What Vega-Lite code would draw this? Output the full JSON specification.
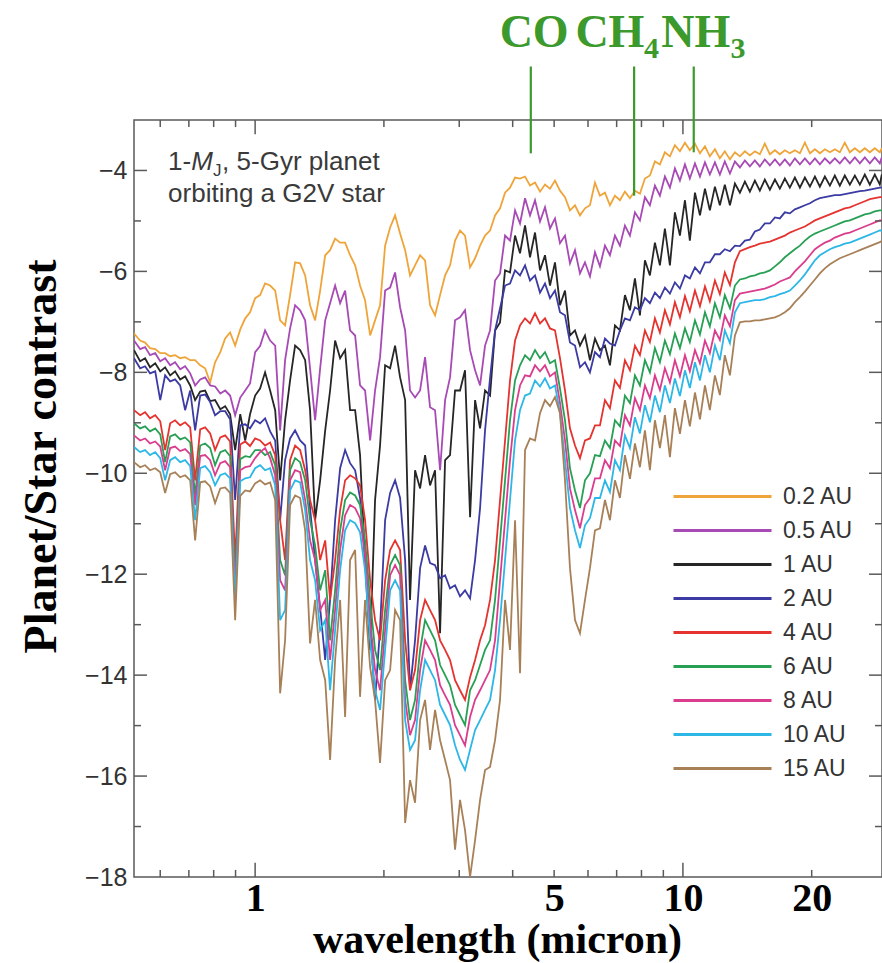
{
"$schema":"https://vega.github.io/schema/vega-lite/v6.json",
"width":748,"height":757,
"autosize":{"type":"none"},
"padding":{"left":134,"top":120,"right":0,"bottom":86},
"background":"white",
"config":{"view":{"stroke":"#5a5a5a","strokeWidth":1.5},"axis":{"grid":false,"domain":false,"ticks":false}},
"datasets":{
"spectra":[
{"w":0.521,"au02":-7.23,"au05":-7.37,"au1":-7.56,"au2":-7.72,"au4":-8.75,"au6":-9.01,"au8":-9.25,"au10":-9.48,"au15":-9.78},
{"w":0.5385,"au02":-7.37,"au05":-7.54,"au1":-7.78,"au2":-7.92,"au4":-8.85,"au6":-9.11,"au8":-9.35,"au10":-9.58,"au15":-9.88},
{"w":0.553,"au02":-7.41,"au05":-7.50,"au1":-7.72,"au2":-7.88,"au4":-8.79,"au6":-9.07,"au8":-9.31,"au10":-9.54,"au15":-9.84},
{"w":0.568,"au02":-7.52,"au05":-7.66,"au1":-7.90,"au2":-8.02,"au4":-8.91,"au6":-9.17,"au8":-9.41,"au10":-9.64,"au15":-9.94},
{"w":0.584,"au02":-7.54,"au05":-7.62,"au1":-7.82,"au2":-7.98,"au4":-8.85,"au6":-9.11,"au8":-9.37,"au10":-9.58,"au15":-9.90},
{"w":0.600,"au02":-7.62,"au05":-7.78,"au1":-7.98,"au2":-8.55,"au4":-8.97,"au6":-9.23,"au8":-9.47,"au10":-9.70,"au15":-9.98},
{"w":0.616,"au02":-7.62,"au05":-7.72,"au1":-7.90,"au2":-8.06,"au4":-9.54,"au6":-9.78,"au8":-9.94,"au10":-10.14,"au15":-10.39},
{"w":0.633,"au02":-7.68,"au05":-7.86,"au1":-8.06,"au2":-8.18,"au4":-9.01,"au6":-9.27,"au8":-9.50,"au10":-9.74,"au15":-10.02},
{"w":0.650,"au02":-7.66,"au05":-7.80,"au1":-7.98,"au2":-8.14,"au4":-8.95,"au6":-9.23,"au8":-9.47,"au10":-9.68,"au15":-9.98},
{"w":0.668,"au02":-7.72,"au05":-7.94,"au1":-8.14,"au2":-8.26,"au4":-9.05,"au6":-9.33,"au8":-9.56,"au10":-9.78,"au15":-10.08},
{"w":0.686,"au02":-7.70,"au05":-7.88,"au1":-8.08,"au2":-8.75,"au4":-8.99,"au6":-9.29,"au8":-9.52,"au10":-9.74,"au15":-10.04},
{"w":0.705,"au02":-7.76,"au05":-8.02,"au1":-8.26,"au2":-8.36,"au4":-9.09,"au6":-9.39,"au8":-9.62,"au10":-9.86,"au15":-10.14},
{"w":0.724,"au02":-7.76,"au05":-8.26,"au1":-8.55,"au2":-9.15,"au4":-10.14,"au6":-10.44,"au8":-10.63,"au10":-10.93,"au15":-11.33},
{"w":0.744,"au02":-7.86,"au05":-8.14,"au1":-8.38,"au2":-8.46,"au4":-9.13,"au6":-9.45,"au8":-9.66,"au10":-9.90,"au15":-10.18},
{"w":0.764,"au02":-7.92,"au05":-8.10,"au1":-8.36,"au2":-8.44,"au4":-9.09,"au6":-9.41,"au8":-9.64,"au10":-9.86,"au15":-10.16},
{"w":0.785,"au02":-8.20,"au05":-8.26,"au1":-8.57,"au2":-8.59,"au4":-9.21,"au6":-9.50,"au8":-9.74,"au10":-9.98,"au15":-10.26},
{"w":0.806,"au02":-7.80,"au05":-8.28,"au1":-8.55,"au2":-8.85,"au4":-9.54,"au6":-9.84,"au8":-10.04,"au10":-10.24,"au15":-10.59},
{"w":0.829,"au02":-7.60,"au05":-8.42,"au1":-8.73,"au2":-8.77,"au4":-9.29,"au6":-9.58,"au8":-9.80,"au10":-10.04,"au15":-10.30},
{"w":0.851,"au02":-7.33,"au05":-8.36,"au1":-8.67,"au2":-8.77,"au4":-9.25,"au6":-9.54,"au8":-9.76,"au10":-10.00,"au15":-10.28},
{"w":0.874,"au02":-7.21,"au05":-8.46,"au1":-8.83,"au2":-8.93,"au4":-9.37,"au6":-9.66,"au8":-9.88,"au10":-10.10,"au15":-10.39},
{"w":0.898,"au02":-7.47,"au05":-8.85,"au1":-9.54,"au2":-10.53,"au4":-11.72,"au6":-12.12,"au8":-12.32,"au10":-12.51,"au15":-12.91},
{"w":0.923,"au02":-7.15,"au05":-8.50,"au1":-8.83,"au2":-9.05,"au4":-9.43,"au6":-9.72,"au8":-9.94,"au10":-10.16,"au15":-10.45},
{"w":0.948,"au02":-6.93,"au05":-8.36,"au1":-9.35,"au2":-9.03,"au4":-9.37,"au6":-9.66,"au8":-9.88,"au10":-10.10,"au15":-10.34},
{"w":0.973,"au02":-6.81,"au05":-8.22,"au1":-8.83,"au2":-9.11,"au4":-9.46,"au6":-9.68,"au8":-9.86,"au10":-10.08,"au15":-10.36},
{"w":1.000,"au02":-6.53,"au05":-7.60,"au1":-8.46,"au2":-8.95,"au4":-9.31,"au6":-9.54,"au8":-9.70,"au10":-9.90,"au15":-10.20},
{"w":1.027,"au02":-6.47,"au05":-7.48,"au1":-8.32,"au2":-9.01,"au4":-9.35,"au6":-9.54,"au8":-9.58,"au10":-9.84,"au15":-10.14},
{"w":1.055,"au02":-6.24,"au05":-7.17,"au1":-8.00,"au2":-8.91,"au4":-9.45,"au6":-9.64,"au8":-9.50,"au10":-9.94,"au15":-10.22},
{"w":1.084,"au02":-6.28,"au05":-7.37,"au1":-8.36,"au2":-9.17,"au4":-9.39,"au6":-9.58,"au8":-9.70,"au10":-9.90,"au15":-10.18},
{"w":1.114,"au02":-6.38,"au05":-7.47,"au1":-8.75,"au2":-9.35,"au4":-9.64,"au6":-9.84,"au8":-10.04,"au10":-10.24,"au15":-10.53},
{"w":1.144,"au02":-6.97,"au05":-9.15,"au1":-10.14,"au2":-10.93,"au4":-10.93,"au6":-11.72,"au8":-12.12,"au10":-12.91,"au15":-14.36},
{"w":1.175,"au02":-7.07,"au05":-7.76,"au1":-8.95,"au2":-9.74,"au4":-11.72,"au6":-12.02,"au8":-12.32,"au10":-12.71,"au15":-13.31},
{"w":1.207,"au02":-6.47,"au05":-7.13,"au1":-8.16,"au2":-9.31,"au4":-9.74,"au6":-9.94,"au8":-10.14,"au10":-10.34,"au15":-10.63},
{"w":1.240,"au02":-5.82,"au05":-6.67,"au1":-7.47,"au2":-9.15,"au4":-9.45,"au6":-9.70,"au8":-9.94,"au10":-10.14,"au15":-10.44},
{"w":1.274,"au02":-5.84,"au05":-6.77,"au1":-7.56,"au2":-9.35,"au4":-9.54,"au6":-9.78,"au8":-9.98,"au10":-10.18,"au15":-10.49},
{"w":1.309,"au02":-6.08,"au05":-6.97,"au1":-7.76,"au2":-9.45,"au4":-9.94,"au6":-10.14,"au8":-10.53,"au10":-10.73,"au15":-11.13},
{"w":1.344,"au02":-6.67,"au05":-7.92,"au1":-8.75,"au2":-10.69,"au4":-10.53,"au6":-10.93,"au8":-11.33,"au10":-11.72,"au15":-13.37},
{"w":1.381,"au02":-6.97,"au05":-8.95,"au1":-10.93,"au2":-11.72,"au4":-10.93,"au6":-11.43,"au8":-11.72,"au10":-12.12,"au15":-12.51},
{"w":1.419,"au02":-6.38,"au05":-7.92,"au1":-10.14,"au2":-12.67,"au4":-11.72,"au6":-12.32,"au8":-12.71,"au10":-13.11,"au15":-13.70},
{"w":1.458,"au02":-5.68,"au05":-6.97,"au1":-9.15,"au2":-13.70,"au4":-11.33,"au6":-11.92,"au8":-12.51,"au10":-12.91,"au15":-14.10},
{"w":1.497,"au02":-5.58,"au05":-6.63,"au1":-8.36,"au2":-12.51,"au4":-12.51,"au6":-13.31,"au8":-13.70,"au10":-14.30,"au15":-15.68},
{"w":1.538,"au02":-5.35,"au05":-6.28,"au1":-7.37,"au2":-10.93,"au4":-11.72,"au6":-12.32,"au8":-12.71,"au10":-13.11,"au15":-13.70},
{"w":1.580,"au02":-5.43,"au05":-6.63,"au1":-7.72,"au2":-9.90,"au4":-10.73,"au6":-11.13,"au8":-11.52,"au10":-11.92,"au15":-12.51},
{"w":1.623,"au02":-5.43,"au05":-6.38,"au1":-7.56,"au2":-9.54,"au4":-10.14,"au6":-10.53,"au8":-10.83,"au10":-11.13,"au15":-14.83},
{"w":1.667,"au02":-5.68,"au05":-7.17,"au1":-8.75,"au2":-9.80,"au4":-10.04,"au6":-10.38,"au8":-10.63,"au10":-10.93,"au15":-11.72},
{"w":1.713,"au02":-5.88,"au05":-7.27,"au1":-8.75,"au2":-9.94,"au4":-10.10,"au6":-10.44,"au8":-10.69,"au10":-10.99,"au15":-11.52},
{"w":1.759,"au02":-6.28,"au05":-8.26,"au1":-9.64,"au2":-10.49,"au4":-10.24,"au6":-10.63,"au8":-10.89,"au10":-11.17,"au15":-14.43},
{"w":1.807,"au02":-6.57,"au05":-8.36,"au1":-11.72,"au2":-11.72,"au4":-10.93,"au6":-11.33,"au8":-11.62,"au10":-11.92,"au15":-12.51},
{"w":1.857,"au02":-7.27,"au05":-9.35,"au1":-13.50,"au2":-13.07,"au4":-12.12,"au6":-12.51,"au8":-12.91,"au10":-13.31,"au15":-13.84},
{"w":1.907,"au02":-6.97,"au05":-8.36,"au1":-10.53,"au2":-14.49,"au4":-12.91,"au6":-13.50,"au8":-13.90,"au10":-14.30,"au15":-14.49},
{"w":1.959,"au02":-6.67,"au05":-7.70,"au1":-9.45,"au2":-13.07,"au4":-13.31,"au6":-13.90,"au8":-14.30,"au10":-14.69,"au15":-15.74},
{"w":2.013,"au02":-5.49,"au05":-6.38,"au1":-7.86,"au2":-10.93,"au4":-12.12,"au6":-12.71,"au8":-13.11,"au10":-13.50,"au15":-14.10},
{"w":2.068,"au02":-5.13,"au05":-6.32,"au1":-7.92,"au2":-10.39,"au4":-11.52,"au6":-11.82,"au8":-12.02,"au10":-12.32,"au15":-13.90},
{"w":2.124,"au02":-4.89,"au05":-6.02,"au1":-7.47,"au2":-10.14,"au4":-11.33,"au6":-11.62,"au8":-11.82,"au10":-12.12,"au15":-12.71},
{"w":2.182,"au02":-5.25,"au05":-6.71,"au1":-8.10,"au2":-10.49,"au4":-11.52,"au6":-11.82,"au8":-12.02,"au10":-12.32,"au15":-12.91},
{"w":2.242,"au02":-5.58,"au05":-7.17,"au1":-8.55,"au2":-11.72,"au4":-13.31,"au6":-14.10,"au8":-14.49,"au10":-14.89,"au15":-16.93},
{"w":2.302,"au02":-6.08,"au05":-8.36,"au1":-12.51,"au2":-14.30,"au4":-14.30,"au6":-14.89,"au8":-15.19,"au10":-15.48,"au15":-16.08},
{"w":2.365,"au02":-5.88,"au05":-8.50,"au1":-9.94,"au2":-13.31,"au4":-13.90,"au6":-14.49,"au8":-14.89,"au10":-15.29,"au15":-16.53},
{"w":2.430,"au02":-5.68,"au05":-8.36,"au1":-10.30,"au2":-11.88,"au4":-12.91,"au6":-13.50,"au8":-13.90,"au10":-14.30,"au15":-14.89},
{"w":2.496,"au02":-5.78,"au05":-7.70,"au1":-9.64,"au2":-11.43,"au4":-12.51,"au6":-12.91,"au8":-13.31,"au10":-13.70,"au15":-14.49},
{"w":2.564,"au02":-6.67,"au05":-8.69,"au1":-10.24,"au2":-11.78,"au4":-12.71,"au6":-13.11,"au8":-13.50,"au10":-13.90,"au15":-15.48},
{"w":2.634,"au02":-6.87,"au05":-8.75,"au1":-9.94,"au2":-11.82,"au4":-12.91,"au6":-13.31,"au8":-13.70,"au10":-14.10,"au15":-14.69},
{"w":2.706,"au02":-6.47,"au05":-9.94,"au1":-13.17,"au2":-12.08,"au4":-13.31,"au6":-13.80,"au8":-14.20,"au10":-14.59,"au15":-15.29},
{"w":2.780,"au02":-6.08,"au05":-8.55,"au1":-9.74,"au2":-12.02,"au4":-13.50,"au6":-14.00,"au8":-14.40,"au10":-14.79,"au15":-15.68},
{"w":2.855,"au02":-5.88,"au05":-8.10,"au1":-9.64,"au2":-12.28,"au4":-13.70,"au6":-14.20,"au8":-14.59,"au10":-14.99,"au15":-16.08},
{"w":2.933,"au02":-5.39,"au05":-6.97,"au1":-8.36,"au2":-12.22,"au4":-14.10,"au6":-14.59,"au8":-14.99,"au10":-15.39,"au15":-17.46},
{"w":3.013,"au02":-5.19,"au05":-6.91,"au1":-8.36,"au2":-12.44,"au4":-14.30,"au6":-14.79,"au8":-15.19,"au10":-15.68,"au15":-16.47},
{"w":3.095,"au02":-5.29,"au05":-6.77,"au1":-7.96,"au2":-12.32,"au4":-14.49,"au6":-14.99,"au8":-15.39,"au10":-15.88,"au15":-17.07},
{"w":3.180,"au02":-5.92,"au05":-7.56,"au1":-10.87,"au2":-12.48,"au4":-14.04,"au6":-14.30,"au8":-14.83,"au10":-15.48,"au15":-18.00},
{"w":3.267,"au02":-5.74,"au05":-7.96,"au1":-8.55,"au2":-11.72,"au4":-13.70,"au6":-14.10,"au8":-14.49,"au10":-15.09,"au15":-17.27},
{"w":3.356,"au02":-5.49,"au05":-8.26,"au1":-9.11,"au2":-10.69,"au4":-13.31,"au6":-13.80,"au8":-14.30,"au10":-14.89,"au15":-16.47},
{"w":3.447,"au02":-5.29,"au05":-7.47,"au1":-8.36,"au2":-9.15,"au4":-13.01,"au6":-13.50,"au8":-14.10,"au10":-14.69,"au15":-15.88},
{"w":3.541,"au02":-5.19,"au05":-7.17,"au1":-8.46,"au2":-8.12,"au4":-12.51,"au6":-13.31,"au8":-13.90,"au10":-14.49,"au15":-15.82},
{"w":3.638,"au02":-4.89,"au05":-6.18,"au1":-7.17,"au2":-7.17,"au4":-11.72,"au6":-12.51,"au8":-13.31,"au10":-13.90,"au15":-15.29},
{"w":3.737,"au02":-4.75,"au05":-6.04,"au1":-7.01,"au2":-6.73,"au4":-10.53,"au6":-11.33,"au8":-12.12,"au10":-12.91,"au15":-14.49},
{"w":3.839,"au02":-4.44,"au05":-5.29,"au1":-5.98,"au2":-6.28,"au4":-9.35,"au6":-10.14,"au8":-10.93,"au10":-11.72,"au15":-12.51},
{"w":3.943,"au02":-4.34,"au05":-5.39,"au1":-6.02,"au2":-6.24,"au4":-8.16,"au6":-8.95,"au8":-9.74,"au10":-10.53,"au15":-13.50},
{"w":4.051,"au02":-4.14,"au05":-4.79,"au1":-5.29,"au2":-5.98,"au4":-7.37,"au6":-8.16,"au8":-8.75,"au10":-9.35,"au15":-10.93},
{"w":4.161,"au02":-4.16,"au05":-5.05,"au1":-5.64,"au2":-6.08,"au4":-7.07,"au6":-7.86,"au8":-8.26,"au10":-8.75,"au15":-13.96},
{"w":4.275,"au02":-4.12,"au05":-4.55,"au1":-5.09,"au2":-5.88,"au4":-6.93,"au6":-7.66,"au8":-8.06,"au10":-8.46,"au15":-9.54},
{"w":4.391,"au02":-4.30,"au05":-4.89,"au1":-5.72,"au2":-6.18,"au4":-7.03,"au6":-7.76,"au8":-8.08,"au10":-8.42,"au15":-9.31},
{"w":4.511,"au02":-4.24,"au05":-4.59,"au1":-5.23,"au2":-6.08,"au4":-6.83,"au6":-7.56,"au8":-7.86,"au10":-8.16,"au15":-9.35},
{"w":4.634,"au02":-4.42,"au05":-5.01,"au1":-5.98,"au2":-6.42,"au4":-7.03,"au6":-7.72,"au8":-7.98,"au10":-8.28,"au15":-8.81},
{"w":4.760,"au02":-4.28,"au05":-4.73,"au1":-5.68,"au2":-6.24,"au4":-6.93,"au6":-7.60,"au8":-7.86,"au10":-8.12,"au15":-8.55},
{"w":4.890,"au02":-4.36,"au05":-5.15,"au1":-6.28,"au2":-6.53,"au4":-7.13,"au6":-7.82,"au8":-8.08,"au10":-8.32,"au15":-8.67},
{"w":5.023,"au02":-4.20,"au05":-4.95,"au1":-5.82,"au2":-6.38,"au4":-7.17,"au6":-7.76,"au8":-8.00,"au10":-8.26,"au15":-8.49},
{"w":5.160,"au02":-4.40,"au05":-5.44,"au1":-6.67,"au2":-6.81,"au4":-7.72,"au6":-8.32,"au8":-8.61,"au10":-8.81,"au15":-8.81},
{"w":5.301,"au02":-4.53,"au05":-5.29,"au1":-6.38,"au2":-6.87,"au4":-8.36,"au6":-8.95,"au8":-9.35,"au10":-9.74,"au15":-10.14},
{"w":5.445,"au02":-4.79,"au05":-5.84,"au1":-7.27,"au2":-7.41,"au4":-9.11,"au6":-9.90,"au8":-10.30,"au10":-10.69,"au15":-11.88},
{"w":5.594,"au02":-4.69,"au05":-5.58,"au1":-7.17,"au2":-7.47,"au4":-9.45,"au6":-10.34,"au8":-10.73,"au10":-11.13,"au15":-12.91},
{"w":5.746,"au02":-4.89,"au05":-6.04,"au1":-7.47,"au2":-7.90,"au4":-9.70,"au6":-10.69,"au8":-11.09,"au10":-11.48,"au15":-13.17},
{"w":5.903,"au02":-4.75,"au05":-5.82,"au1":-7.27,"au2":-7.80,"au4":-9.35,"au6":-10.14,"au8":-10.63,"au10":-11.03,"au15":-12.51},
{"w":6.063,"au02":-4.69,"au05":-6.10,"au1":-7.76,"au2":-8.00,"au4":-9.31,"au6":-10.00,"au8":-10.49,"au10":-10.89,"au15":-11.88},
{"w":6.229,"au02":-4.24,"au05":-5.62,"au1":-7.33,"au2":-7.60,"au4":-9.05,"au6":-9.64,"au8":-10.10,"au10":-10.49,"au15":-11.13},
{"w":6.398,"au02":-4.50,"au05":-5.90,"au1":-7.56,"au2":-7.70,"au4":-9.05,"au6":-9.66,"au8":-10.10,"au10":-10.49,"au15":-11.09},
{"w":6.573,"au02":-4.44,"au05":-5.49,"au1":-7.47,"au2":-7.33,"au4":-8.55,"au6":-9.35,"au8":-9.74,"au10":-10.14,"au15":-10.53},
{"w":6.752,"au02":-4.69,"au05":-5.68,"au1":-7.86,"au2":-7.43,"au4":-8.71,"au6":-9.50,"au8":-9.90,"au10":-10.37,"au15":-10.93},
{"w":6.936,"au02":-4.50,"au05":-5.29,"au1":-7.07,"au2":-7.47,"au4":-8.16,"au6":-8.95,"au8":-9.35,"au10":-9.74,"au15":-10.14},
{"w":7.125,"au02":-4.59,"au05":-5.49,"au1":-7.17,"au2":-7.17,"au4":-8.31,"au6":-9.07,"au8":-9.46,"au10":-9.94,"au15":-10.49},
{"w":7.319,"au02":-4.42,"au05":-5.09,"au1":-6.47,"au2":-6.93,"au4":-7.76,"au6":-8.46,"au8":-8.85,"au10":-9.25,"au15":-9.64},
{"w":7.519,"au02":-4.55,"au05":-5.29,"au1":-6.77,"au2":-6.97,"au4":-7.96,"au6":-8.61,"au8":-9.05,"au10":-9.50,"au15":-10.11},
{"w":7.724,"au02":-4.40,"au05":-4.83,"au1":-6.14,"au2":-6.71,"au4":-7.47,"au6":-8.06,"au8":-8.51,"au10":-8.89,"au15":-9.41},
{"w":7.934,"au02":-4.46,"au05":-4.99,"au1":-6.87,"au2":-6.77,"au4":-7.66,"au6":-8.26,"au8":-8.75,"au10":-9.21,"au15":-9.88},
{"w":8.151,"au02":-4.16,"au05":-4.53,"au1":-5.78,"au2":-6.53,"au4":-7.17,"au6":-7.76,"au8":-8.26,"au10":-8.65,"au15":-9.15},
{"w":8.372,"au02":-4.10,"au05":-4.69,"au1":-6.08,"au2":-6.63,"au4":-7.40,"au6":-8.00,"au8":-8.51,"au10":-8.99,"au15":-9.94},
{"w":8.601,"au02":-3.82,"au05":-4.30,"au1":-5.43,"au2":-6.42,"au4":-6.93,"au6":-7.52,"au8":-8.06,"au10":-8.46,"au15":-8.95},
{"w":8.835,"au02":-3.88,"au05":-4.50,"au1":-5.88,"au2":-6.53,"au4":-7.21,"au6":-7.80,"au8":-8.35,"au10":-8.79,"au15":-9.50},
{"w":9.076,"au02":-3.64,"au05":-4.12,"au1":-5.15,"au2":-6.32,"au4":-6.77,"au6":-7.37,"au8":-7.92,"au10":-8.26,"au15":-8.85},
{"w":9.324,"au02":-3.72,"au05":-4.34,"au1":-5.88,"au2":-6.44,"au4":-7.05,"au6":-7.64,"au8":-8.20,"au10":-8.61,"au15":-9.68},
{"w":9.578,"au02":-3.50,"au05":-3.96,"au1":-4.83,"au2":-6.22,"au4":-6.61,"au6":-7.23,"au8":-7.76,"au10":-8.12,"au15":-8.71},
{"w":9.84,"au02":-3.62,"au05":-4.20,"au1":-5.29,"au2":-6.34,"au4":-6.91,"au6":-7.52,"au8":-8.08,"au10":-8.47,"au15":-9.22},
{"w":10.11,"au02":-3.45,"au05":-3.88,"au1":-4.59,"au2":-6.08,"au4":-6.49,"au6":-7.13,"au8":-7.66,"au10":-7.96,"au15":-8.55},
{"w":10.38,"au02":-3.60,"au05":-4.16,"au1":-5.39,"au2":-6.14,"au4":-6.79,"au6":-7.40,"au8":-7.98,"au10":-8.31,"au15":-9.07},
{"w":10.67,"au02":-3.47,"au05":-3.86,"au1":-4.44,"au2":-5.92,"au4":-6.38,"au6":-6.97,"au8":-7.56,"au10":-7.80,"au15":-8.40},
{"w":10.96,"au02":-3.66,"au05":-4.12,"au1":-4.89,"au2":-6.04,"au4":-6.69,"au6":-7.25,"au8":-7.82,"au10":-8.16,"au15":-8.93},
{"w":11.26,"au02":-3.52,"au05":-3.84,"au1":-4.36,"au2":-5.82,"au4":-6.30,"au6":-6.81,"au8":-7.37,"au10":-7.66,"au15":-8.26},
{"w":11.56,"au02":-3.72,"au05":-4.08,"au1":-4.79,"au2":-5.82,"au4":-6.59,"au6":-7.09,"au8":-7.62,"au10":-8.00,"au15":-8.75},
{"w":11.88,"au02":-3.58,"au05":-3.84,"au1":-4.32,"au2":-5.66,"au4":-6.18,"au6":-6.63,"au8":-7.17,"au10":-7.47,"au15":-8.06},
{"w":12.20,"au02":-3.76,"au05":-4.08,"au1":-4.69,"au2":-5.66,"au4":-6.45,"au6":-6.91,"au8":-7.36,"au10":-7.76,"au15":-8.45},
{"w":12.53,"au02":-3.62,"au05":-3.82,"au1":-4.28,"au2":-5.56,"au4":-6.02,"au6":-6.47,"au8":-6.87,"au10":-7.17,"au15":-7.66},
{"w":12.88,"au02":-3.78,"au05":-4.06,"au1":-4.69,"au2":-5.60,"au4":-6.27,"au6":-6.73,"au8":-7.09,"au10":-7.42,"au15":-8.06},
{"w":13.23,"au02":-3.64,"au05":-3.82,"au1":-4.26,"au2":-5.49,"au4":-5.82,"au6":-6.28,"au8":-6.57,"au10":-6.81,"au15":-7.27},
{"w":13.59,"au02":-3.72,"au05":-3.94,"au1":-4.44,"au2":-5.50,"au4":-5.60,"au6":-6.16,"au8":-6.44,"au10":-6.63,"au15":-7.01},
{"w":13.96,"au02":-3.62,"au05":-3.80,"au1":-4.22,"au2":-5.39,"au4":-5.56,"au6":-6.14,"au8":-6.42,"au10":-6.61,"au15":-6.99},
{"w":14.34,"au02":-3.70,"au05":-3.92,"au1":-4.42,"au2":-5.37,"au4":-5.52,"au6":-6.10,"au8":-6.40,"au10":-6.59,"au15":-6.99},
{"w":14.73,"au02":-3.62,"au05":-3.80,"au1":-4.20,"au2":-5.21,"au4":-5.49,"au6":-6.08,"au8":-6.38,"au10":-6.57,"au15":-6.97},
{"w":15.13,"au02":-3.68,"au05":-3.92,"au1":-4.40,"au2":-5.17,"au4":-5.45,"au6":-6.04,"au8":-6.36,"au10":-6.57,"au15":-6.97},
{"w":15.54,"au02":-3.47,"au05":-3.78,"au1":-4.18,"au2":-5.05,"au4":-5.43,"au6":-6.02,"au8":-6.34,"au10":-6.55,"au15":-6.95},
{"w":15.97,"au02":-3.68,"au05":-3.90,"au1":-4.38,"au2":-5.05,"au4":-5.41,"au6":-5.98,"au8":-6.30,"au10":-6.51,"au15":-6.93},
{"w":16.41,"au02":-3.60,"au05":-3.78,"au1":-4.18,"au2":-4.93,"au4":-5.37,"au6":-5.90,"au8":-6.26,"au10":-6.49,"au15":-6.91},
{"w":16.85,"au02":-3.68,"au05":-3.90,"au1":-4.36,"au2":-4.95,"au4":-5.33,"au6":-5.82,"au8":-6.20,"au10":-6.45,"au15":-6.87},
{"w":17.31,"au02":-3.60,"au05":-3.78,"au1":-4.16,"au2":-4.83,"au4":-5.29,"au6":-5.72,"au8":-6.16,"au10":-6.42,"au15":-6.81},
{"w":17.78,"au02":-3.66,"au05":-3.90,"au1":-4.34,"au2":-4.85,"au4":-5.23,"au6":-5.64,"au8":-6.12,"au10":-6.38,"au15":-6.73},
{"w":18.27,"au02":-3.60,"au05":-3.76,"au1":-4.14,"au2":-4.77,"au4":-5.19,"au6":-5.56,"au8":-6.00,"au10":-6.28,"au15":-6.61},
{"w":18.77,"au02":-3.66,"au05":-3.88,"au1":-4.34,"au2":-4.73,"au4":-5.15,"au6":-5.49,"au8":-5.90,"au10":-6.18,"au15":-6.51},
{"w":19.28,"au02":-3.45,"au05":-3.76,"au1":-4.14,"au2":-4.69,"au4":-5.11,"au6":-5.39,"au8":-5.80,"au10":-6.06,"au15":-6.40},
{"w":19.81,"au02":-3.66,"au05":-3.88,"au1":-4.32,"au2":-4.65,"au4":-5.05,"au6":-5.31,"au8":-5.68,"au10":-5.92,"au15":-6.28},
{"w":20.35,"au02":-3.58,"au05":-3.76,"au1":-4.12,"au2":-4.59,"au4":-4.99,"au6":-5.25,"au8":-5.56,"au10":-5.78,"au15":-6.16},
{"w":20.90,"au02":-3.66,"au05":-3.88,"au1":-4.32,"au2":-4.55,"au4":-4.95,"au6":-5.21,"au8":-5.49,"au10":-5.68,"au15":-6.04},
{"w":21.47,"au02":-3.58,"au05":-3.76,"au1":-4.12,"au2":-4.53,"au4":-4.91,"au6":-5.17,"au8":-5.43,"au10":-5.62,"au15":-5.94},
{"w":22.06,"au02":-3.64,"au05":-3.86,"au1":-4.30,"au2":-4.51,"au4":-4.87,"au6":-5.13,"au8":-5.39,"au10":-5.56,"au15":-5.86},
{"w":22.65,"au02":-3.58,"au05":-3.76,"au1":-4.10,"au2":-4.49,"au4":-4.83,"au6":-5.09,"au8":-5.33,"au10":-5.52,"au15":-5.80},
{"w":23.27,"au02":-3.64,"au05":-3.86,"au1":-4.30,"au2":-4.49,"au4":-4.79,"au6":-5.05,"au8":-5.29,"au10":-5.49,"au15":-5.74},
{"w":23.90,"au02":-3.45,"au05":-3.74,"au1":-4.10,"au2":-4.47,"au4":-4.75,"au6":-5.01,"au8":-5.25,"au10":-5.45,"au15":-5.70},
{"w":24.56,"au02":-3.64,"au05":-3.86,"au1":-4.28,"au2":-4.45,"au4":-4.73,"au6":-4.99,"au8":-5.23,"au10":-5.43,"au15":-5.66},
{"w":25.23,"au02":-3.56,"au05":-3.74,"au1":-4.10,"au2":-4.43,"au4":-4.69,"au6":-4.95,"au8":-5.19,"au10":-5.39,"au15":-5.62},
{"w":25.92,"au02":-3.64,"au05":-3.86,"au1":-4.28,"au2":-4.41,"au4":-4.65,"au6":-4.91,"au8":-5.15,"au10":-5.35,"au15":-5.58},
{"w":26.62,"au02":-3.56,"au05":-3.74,"au1":-4.08,"au2":-4.40,"au4":-4.61,"au6":-4.87,"au8":-5.11,"au10":-5.31,"au15":-5.54},
{"w":27.35,"au02":-3.64,"au05":-3.86,"au1":-4.28,"au2":-4.38,"au4":-4.57,"au6":-4.85,"au8":-5.07,"au10":-5.27,"au15":-5.50},
{"w":28.09,"au02":-3.56,"au05":-3.74,"au1":-4.08,"au2":-4.36,"au4":-4.55,"au6":-4.81,"au8":-5.03,"au10":-5.23,"au15":-5.46},
{"w":28.86,"au02":-3.64,"au05":-3.86,"au1":-4.28,"au2":-4.34,"au4":-4.53,"au6":-4.79,"au8":-4.99,"au10":-5.19,"au15":-5.42},
{"w":29.17,"au02":-3.56,"au05":-3.74,"au1":-4.08,"au2":-4.34,"au4":-4.53,"au6":-4.79,"au8":-4.99,"au10":-5.19,"au15":-5.40}
],
"bands":[
{"molecule":"CO","formula":"CO","wavelength":4.41,"label_wavelength":4.49,"line_end":-3.66},
{"molecule":"CH4","formula":"CH","wavelength":7.69,"label_wavelength":6.75,"line_end":-4.50},
{"molecule":"NH3","formula":"NH","wavelength":10.6,"label_wavelength":10.72,"line_end":-3.64}
],
"subscripts":[
{"molecule":"CH4","digit":"4","wavelength":8.44},
{"molecule":"NH3","digit":"3","wavelength":13.45}
],
"x_ticks":[
{"tick":0.6,"major":false},{"tick":0.7,"major":false},{"tick":0.8,"major":false},{"tick":0.9,"major":false},{"tick":1,"major":true},
{"tick":2,"major":false},{"tick":3,"major":false},{"tick":4,"major":false},{"tick":5,"major":false},{"tick":6,"major":false},
{"tick":7,"major":false},{"tick":8,"major":false},{"tick":9,"major":false},{"tick":10,"major":true},{"tick":20,"major":false}
],
"y_ticks":[
{"tick":-17,"major":false},{"tick":-16,"major":true},{"tick":-15,"major":false},{"tick":-14,"major":true},{"tick":-13,"major":false},
{"tick":-12,"major":true},{"tick":-11,"major":false},{"tick":-10,"major":true},{"tick":-9,"major":false},{"tick":-8,"major":true},
{"tick":-7,"major":false},{"tick":-6,"major":true},{"tick":-5,"major":false},{"tick":-4,"major":true}
]
},
"layer":[
{
"data":{"name":"spectra"},
"transform":[{"fold":["au02","au05","au1","au2","au4","au6","au8","au10","au15"],"as":["distance","contrast"]}],
"mark":{"type":"line","strokeWidth":1.8,"clip":true},
"encoding":{
"x":{"field":"w","type":"quantitative","scale":{"type":"log","domain":[0.521,29.2],"nice":false},
"axis":{"orient":"bottom","values":[1,5,10,20],"format":"d",
"labelFont":"Liberation Serif","labelFontWeight":"bold","labelFontSize":40,"labelColor":"black","labelPadding":1,
"labelFlush":false,"labelOverlap":false,"labelBound":false,
"title":"wavelength (micron)","titleFont":"Liberation Serif","titleFontWeight":"bold","titleFontSize":42,"titleColor":"black",
"titleX":363,"titleY":75,"titleBaseline":"alphabetic","titleAlign":"center"}},
"y":{"field":"contrast","type":"quantitative","scale":{"domain":[-18,-3],"nice":false,"zero":false},
"axis":{"orient":"left","values":[-18,-16,-14,-12,-10,-8,-6,-4],
"labelFont":"Liberation Sans","labelFontSize":25,"labelColor":"#333333","labelPadding":7,"labelOverlap":false,
"title":"Planet/Star contrast","titleFont":"Liberation Serif","titleFontWeight":"bold","titleFontSize":46,"titleColor":"black",
"titleAngle":270,"titleX":-79,"titleY":336,"titleBaseline":"alphabetic","titleAlign":"center"}},
"color":{"field":"distance","type":"nominal",
"scale":{"domain":["au02","au05","au1","au2","au4","au6","au8","au10","au15"],
"range":["#EFA43A","#A84AB5","#262626","#3B3BA3","#E5332F","#27A055","#DB3D8E","#2CB7E6","#A88058"]},
"legend":{"orient":"none","legendX":538,"legendY":366,"title":null,"symbolType":"stroke","symbolSize":9604,"symbolStrokeWidth":3,
"clipHeight":21,
"labelFont":"Liberation Sans","labelFontSize":23,"labelColor":"#333333","labelOffset":10,"rowPadding":10,"padding":0,
"labelExpr":"datum.label == 'au02' ? '0.2 AU' : datum.label == 'au05' ? '0.5 AU' : slice(datum.label, 2) + ' AU'"}}
}
},
{
"data":{"name":"x_ticks"},
"transform":[{"filter":"datum.major"}],
"mark":{"type":"rule","color":"#5a5a5a","strokeWidth":1.5},
"encoding":{
"x":{"field":"tick","type":"quantitative","scale":{"type":"log","domain":[0.521,29.2],"nice":false}},
"y":{"datum":-18,"type":"quantitative","scale":{"domain":[-18,-3],"nice":false,"zero":false}},
"y2":{"datum":-17.72}
}
},
{
"data":{"name":"x_ticks"},
"transform":[{"filter":"!datum.major"}],
"mark":{"type":"rule","color":"#5a5a5a","strokeWidth":1.5},
"encoding":{
"x":{"field":"tick","type":"quantitative","scale":{"type":"log","domain":[0.521,29.2],"nice":false}},
"y":{"datum":-18,"type":"quantitative","scale":{"domain":[-18,-3],"nice":false,"zero":false}},
"y2":{"datum":-17.86}
}
},
{
"data":{"name":"x_ticks"},
"transform":[{"filter":"datum.major"}],
"mark":{"type":"rule","color":"#5a5a5a","strokeWidth":1.5},
"encoding":{
"x":{"field":"tick","type":"quantitative","scale":{"type":"log","domain":[0.521,29.2],"nice":false}},
"y":{"datum":-3,"type":"quantitative","scale":{"domain":[-18,-3],"nice":false,"zero":false}},
"y2":{"datum":-3.28}
}
},
{
"data":{"name":"x_ticks"},
"transform":[{"filter":"!datum.major"}],
"mark":{"type":"rule","color":"#5a5a5a","strokeWidth":1.5},
"encoding":{
"x":{"field":"tick","type":"quantitative","scale":{"type":"log","domain":[0.521,29.2],"nice":false}},
"y":{"datum":-3,"type":"quantitative","scale":{"domain":[-18,-3],"nice":false,"zero":false}},
"y2":{"datum":-3.14}
}
},
{
"data":{"name":"y_ticks"},
"transform":[{"filter":"datum.major"}],
"mark":{"type":"rule","color":"#5a5a5a","strokeWidth":1.5},
"encoding":{
"y":{"field":"tick","type":"quantitative","scale":{"domain":[-18,-3],"nice":false,"zero":false}},
"x":{"datum":0.521,"type":"quantitative","scale":{"type":"log","domain":[0.521,29.2],"nice":false}},
"x2":{"datum":0.5587}
}
},
{
"data":{"name":"y_ticks"},
"transform":[{"filter":"!datum.major"}],
"mark":{"type":"rule","color":"#5a5a5a","strokeWidth":1.5},
"encoding":{
"y":{"field":"tick","type":"quantitative","scale":{"domain":[-18,-3],"nice":false,"zero":false}},
"x":{"datum":0.521,"type":"quantitative","scale":{"type":"log","domain":[0.521,29.2],"nice":false}},
"x2":{"datum":0.541}
}
},
{
"data":{"name":"y_ticks"},
"transform":[{"filter":"datum.major"}],
"mark":{"type":"rule","color":"#5a5a5a","strokeWidth":1.5},
"encoding":{
"y":{"field":"tick","type":"quantitative","scale":{"domain":[-18,-3],"nice":false,"zero":false}},
"x":{"datum":29.2,"type":"quantitative","scale":{"type":"log","domain":[0.521,29.2],"nice":false}},
"x2":{"datum":27.23}
}
},
{
"data":{"name":"y_ticks"},
"transform":[{"filter":"!datum.major"}],
"mark":{"type":"rule","color":"#5a5a5a","strokeWidth":1.5},
"encoding":{
"y":{"field":"tick","type":"quantitative","scale":{"domain":[-18,-3],"nice":false,"zero":false}},
"x":{"datum":29.2,"type":"quantitative","scale":{"type":"log","domain":[0.521,29.2],"nice":false}},
"x2":{"datum":28.12}
}
},
{
"data":{"name":"bands"},
"mark":{"type":"rule","color":"#3c9a2c","strokeWidth":2.2},
"encoding":{
"x":{"field":"wavelength","type":"quantitative","scale":{"type":"log","domain":[0.521,29.2],"nice":false}},
"y":{"field":"line_end","type":"quantitative","scale":{"domain":[-18,-3],"nice":false,"zero":false}},
"y2":{"datum":-1.94}
}
},
{
"data":{"name":"bands"},
"mark":{"type":"text","font":"Liberation Serif","fontWeight":"bold","fontSize":46,"color":"#3c9a2c","align":"center","baseline":"alphabetic"},
"encoding":{
"x":{"field":"label_wavelength","type":"quantitative","scale":{"type":"log","domain":[0.521,29.2],"nice":false}},
"y":{"datum":-1.56,"type":"quantitative","scale":{"domain":[-18,-3],"nice":false,"zero":false}},
"text":{"field":"formula"}
}
},
{
"data":{"name":"subscripts"},
"mark":{"type":"text","font":"Liberation Serif","fontWeight":"bold","fontSize":30,"color":"#3c9a2c","align":"center","baseline":"alphabetic"},
"encoding":{
"x":{"field":"wavelength","type":"quantitative","scale":{"type":"log","domain":[0.521,29.2],"nice":false}},
"y":{"datum":-1.78,"type":"quantitative","scale":{"domain":[-18,-3],"nice":false,"zero":false}},
"text":{"field":"digit"}
}
},
{
"data":{"values":[{"part":"1-"}]},
"mark":{"type":"text","font":"Liberation Sans","fontSize":26,"color":"#3a3a3a","align":"left","baseline":"alphabetic","text":"1-"},
"encoding":{
"x":{"datum":0.626,"type":"quantitative","scale":{"type":"log","domain":[0.521,29.2],"nice":false}},
"y":{"datum":-4.0,"type":"quantitative","scale":{"domain":[-18,-3],"nice":false,"zero":false}}
}
},
{
"data":{"values":[{"part":"M"}]},
"mark":{"type":"text","font":"Liberation Sans","fontSize":26,"fontStyle":"italic","color":"#3a3a3a","align":"left","baseline":"alphabetic","text":"M"},
"encoding":{
"x":{"datum":0.7089,"type":"quantitative","scale":{"type":"log","domain":[0.521,29.2],"nice":false}},
"y":{"datum":-4.0,"type":"quantitative","scale":{"domain":[-18,-3],"nice":false,"zero":false}}
}
},
{
"data":{"values":[{"part":"J"}]},
"mark":{"type":"text","font":"Liberation Sans","fontSize":17,"color":"#3a3a3a","align":"left","baseline":"alphabetic","text":"J"},
"encoding":{
"x":{"datum":0.7968,"type":"quantitative","scale":{"type":"log","domain":[0.521,29.2],"nice":false}},
"y":{"datum":-4.1,"type":"quantitative","scale":{"domain":[-18,-3],"nice":false,"zero":false}}
}
},
{
"data":{"values":[{"part":", 5-Gyr planet"}]},
"mark":{"type":"text","font":"Liberation Sans","fontSize":26,"color":"#3a3a3a","align":"left","baseline":"alphabetic","text":", 5-Gyr planet"},
"encoding":{
"x":{"datum":0.8372,"type":"quantitative","scale":{"type":"log","domain":[0.521,29.2],"nice":false}},
"y":{"datum":-4.0,"type":"quantitative","scale":{"domain":[-18,-3],"nice":false,"zero":false}}
}
},
{
"data":{"values":[{"part":"orbiting a G2V star"}]},
"mark":{"type":"text","font":"Liberation Sans","fontSize":26,"color":"#3a3a3a","align":"left","baseline":"alphabetic","text":"orbiting a G2V star"},
"encoding":{
"x":{"datum":0.626,"type":"quantitative","scale":{"type":"log","domain":[0.521,29.2],"nice":false}},
"y":{"datum":-4.63,"type":"quantitative","scale":{"domain":[-18,-3],"nice":false,"zero":false}}
}
}
]
}
